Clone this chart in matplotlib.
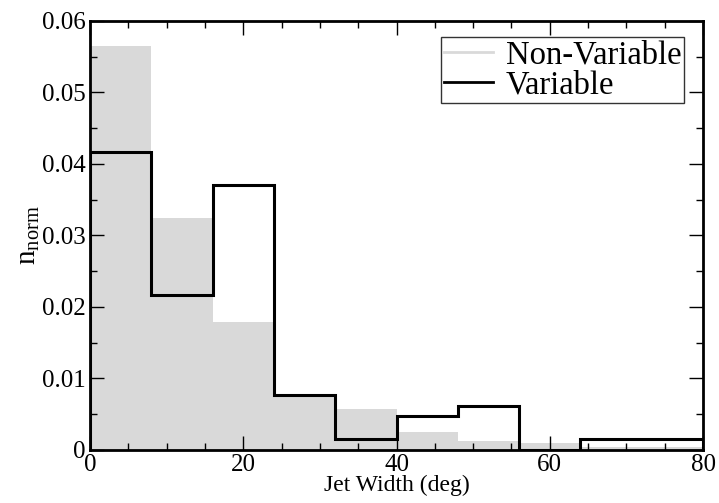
import matplotlib
matplotlib.use("Agg")
import matplotlib.pyplot as plt
from matplotlib.lines import Line2D
from matplotlib.ticker import MultipleLocator

# Histogram bin edges (deg) and normalised counts
bin_edges = [0, 8, 16, 24, 32, 40, 48, 56, 64, 72, 80]
non_variable = [0.0565, 0.0324, 0.0179, 0.0075, 0.0057, 0.0025, 0.0013, 0.0010, 0.0004, 0.0004]
variable = [0.0417, 0.0217, 0.0371, 0.0077, 0.0015, 0.0047, 0.0062, 0.0, 0.0015, 0.0015]

x_ticks = [0, 20, 40, 60, 80]
y_ticks = [0, 0.01, 0.02, 0.03, 0.04, 0.05, 0.06]
y_tick_labels = ["0", "0.01", "0.02", "0.03", "0.04", "0.05", "0.06"]

plt.rcParams["font.family"] = ["Liberation Serif", "DejaVu Serif"]
plt.rcParams["mathtext.fontset"] = "custom"
plt.rcParams["mathtext.rm"] = "Liberation Serif"

fig = plt.figure(figsize=(7.19, 5.03), dpi=100)
ax = fig.add_axes([0.1252, 0.1054, 0.8526, 0.8529])

grey = "#d9d9d9"
ax.stairs(non_variable, bin_edges, fill=True, color=grey, baseline=0, zorder=1)
ax.stairs(variable, bin_edges, color="black", linewidth=2.2, baseline=0, zorder=2)

ax.set_xlim(0, 80)
ax.set_ylim(0, 0.06)
ax.set_xticks(x_ticks)
ax.set_xticklabels([str(v) for v in x_ticks])
ax.set_yticks(y_ticks)
ax.set_yticklabels(y_tick_labels)
ax.xaxis.set_minor_locator(MultipleLocator(5))
ax.yaxis.set_minor_locator(MultipleLocator(0.005))

ax.tick_params(which="both", direction="in", top=True, right=True, width=1.0, labelsize=18)
ax.tick_params(which="major", length=10, pad=3)
ax.tick_params(which="minor", length=5)
for s in ax.spines.values():
    s.set_linewidth(2)

ax.set_xlabel("Jet Width (deg)", fontsize=17, labelpad=-1)
ax.set_ylabel(r"n$_{\rm norm}$", fontsize=21, labelpad=0)

handles = [Line2D([], [], color=grey, linewidth=2),
           Line2D([], [], color="black", linewidth=2)]
leg = ax.legend(handles, ["Non-Variable", "Variable"], loc="upper right",
                bbox_to_anchor=(0.969, 0.962), fontsize=23.5, frameon=True,
                fancybox=False, borderpad=0.08, labelspacing=0.0,
                handlelength=1.5, handletextpad=0.4, borderaxespad=0)
leg.get_frame().set_edgecolor("black")
leg.get_frame().set_linewidth(1.0)

fig.savefig("out.png", dpi=100)
